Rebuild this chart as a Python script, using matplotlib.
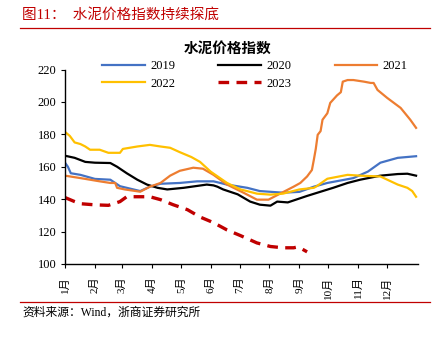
import matplotlib
matplotlib.use("Agg")
import matplotlib.pyplot as plt
import pandas as pd

# ---------------- data (x = day of year) ----------------
months = ["1月", "2月", "3月", "4月", "5月", "6月", "7月", "8月", "9月", "10月", "11月", "12月"]
month_start_days = [0, 31, 59, 90, 120, 151, 181, 212, 243, 273, 304, 334]

days_2019 = [0, 3, 6, 16, 31, 47, 52, 57, 64, 78, 88, 99, 119, 137, 154, 168, 189, 202, 226, 243, 258, 272, 299, 314, 327, 345, 364]
vals_2019 = [162.5, 160, 156, 155, 152.5, 152, 150, 148, 147, 145, 147.7, 149.5, 150, 151, 151, 149, 147, 145, 144, 144.5, 147.7, 150, 153, 157, 162.5, 165.5, 166.5]

days_2020 = [0, 10, 21, 31, 47, 54, 64, 75, 85, 96, 106, 123, 147, 154, 158, 164, 179, 192, 202, 213, 220, 231, 241, 251, 265, 278, 293, 306, 327, 345, 355, 364]
vals_2020 = [166.8, 165.5, 163, 162.5, 162.3, 160, 156, 152, 149, 147, 146, 147, 149, 148.5, 147.7, 146, 143, 138.5, 136.6, 136, 138.5, 138, 140, 142, 144.6, 147, 150, 152, 154.5, 155.5, 155.7, 154.5]

days_2021 = [0, 16, 36, 47, 52, 54, 62, 78, 88, 99, 109, 119, 133, 143, 154, 168, 185, 199, 211, 223, 237, 244, 251, 256, 258, 260, 262, 265, 267, 272, 275, 282, 286, 288, 293, 299, 310, 317, 320, 324, 334, 348, 358, 364]
vals_2021 = [154.5, 153, 151, 150, 150, 147, 146, 144.6, 147.7, 150, 154.5, 157.5, 159.4, 158.8, 155, 149, 144, 139.7, 139.7, 143.4, 147.7, 150, 154, 158, 164.3, 171, 179.7, 182, 189, 193, 199.4, 204, 206, 212.5, 213.5, 213.5, 212.5, 211.7, 211.7, 207.4, 202.5, 196.3, 189, 184]

days_2022 = [0, 5, 10, 16, 21, 26, 36, 45, 57, 60, 75, 88, 99, 109, 119, 131, 140, 151, 168, 182, 199, 213, 226, 243, 258, 261, 272, 293, 306, 327, 345, 355, 360, 364]
vals_2022 = [181.5, 179, 175, 174, 172.5, 170.5, 170.5, 168.6, 168.6, 171, 172.5, 173.5, 172.5, 171.7, 169, 166, 163, 157, 150, 146, 143.4, 142.8, 143.4, 146, 147, 148, 152.6, 155, 154.5, 154, 149, 147, 145, 141.5]

days_2023 = [0, 10, 16, 31, 45, 52, 57, 64, 75, 88, 99, 112, 127, 140, 154, 168, 182, 199, 213, 226, 237, 241, 245, 251]
vals_2023 = [141, 138.5, 137.2, 136.5, 136.2, 137.5, 138.5, 141.5, 141.5, 141.5, 139.7, 136.6, 133.5, 129, 125.5, 121, 117.5, 113, 110.8, 110, 110, 110.5, 109.5, 107.5]

series = [
    ("2019", days_2019, vals_2019, "#4472C4", "-"),
    ("2020", days_2020, vals_2020, "#000000", "-"),
    ("2021", days_2021, vals_2021, "#ED7D31", "-"),
    ("2022", days_2022, vals_2022, "#FFC000", "-"),
    ("2023", days_2023, vals_2023, "#C00000", "--"),
]

title_text = "图11：  水泥价格指数持续探底"
chart_title = "水泥价格指数"
source_text = "资料来源：Wind，浙商证券研究所"

# ---------------- figure ----------------
FAM = ["Liberation Serif", "Noto Sans CJK SC"]
plt.rcParams["font.family"] = FAM

W, H = 443, 338
fig = plt.figure(figsize=(W / 100, H / 100), dpi=100)
ax = fig.add_axes([65 / W, 1 - 264 / H, (418 - 65) / W, (264 - 69.5) / H])

handles = {}
for name, d, v, c, ls in series:
    if ls == "--":
        (h,) = ax.plot(d, v, color=c, lw=2.4, ls=(0, (3.2, 2.2)), label=name, solid_capstyle="butt")
    else:
        (h,) = ax.plot(d, v, color=c, lw=1.6, label=name)
    handles[name] = h

ax.set_xlim(0, 366)
ax.set_ylim(100, 220)
ax.set_yticks(range(100, 221, 20))
ax.set_xticks(month_start_days)
ax.set_xticklabels(months, rotation=90, fontsize=8, family=FAM)
ax.tick_params(axis="y", labelsize=9, length=3, width=0.8, direction="out", pad=3)
ax.tick_params(axis="x", length=3, width=0.8, direction="out", pad=6)
for s in ["top", "right"]:
    ax.spines[s].set_visible(False)
for s in ["left", "bottom"]:
    ax.spines[s].set_linewidth(1.0)

# legend: column-major fill, ordered so rows read 2019 2020 2021 / 2022 2023
leg_order = ["2019", "2022", "2020", "2023", "2021"]
fig.legend(handles=[handles[k] for k in leg_order], labels=leg_order, ncol=3,
           loc="upper left", bbox_to_anchor=(102 / W, 1 - 60 / H),
           frameon=False, fontsize=9, handlelength=3.4, handletextpad=0.45,
           columnspacing=3.45, labelspacing=0.45, borderpad=0, borderaxespad=0)

# titles and decorations
fig.text(22 / W, 1 - 15 / H, title_text, color="#C00000", fontsize=10.5, va="center", ha="left", family=FAM)
fig.add_artist(plt.Line2D([20 / W, 430 / W], [1 - 28 / H, 1 - 28 / H], color="#C00000", lw=0.9))
fig.text(228 / W, 1 - 49 / H, chart_title, fontsize=10.5, fontweight="bold", ha="center", va="center", family=FAM)
fig.add_artist(plt.Line2D([20 / W, 430 / W], [1 - 302 / H, 1 - 302 / H], color="#C00000", lw=0.9))
fig.text(22 / W, 1 - 313 / H, source_text, fontsize=8.5, ha="left", va="center", family=FAM)

fig.savefig("out.png", dpi=100)
